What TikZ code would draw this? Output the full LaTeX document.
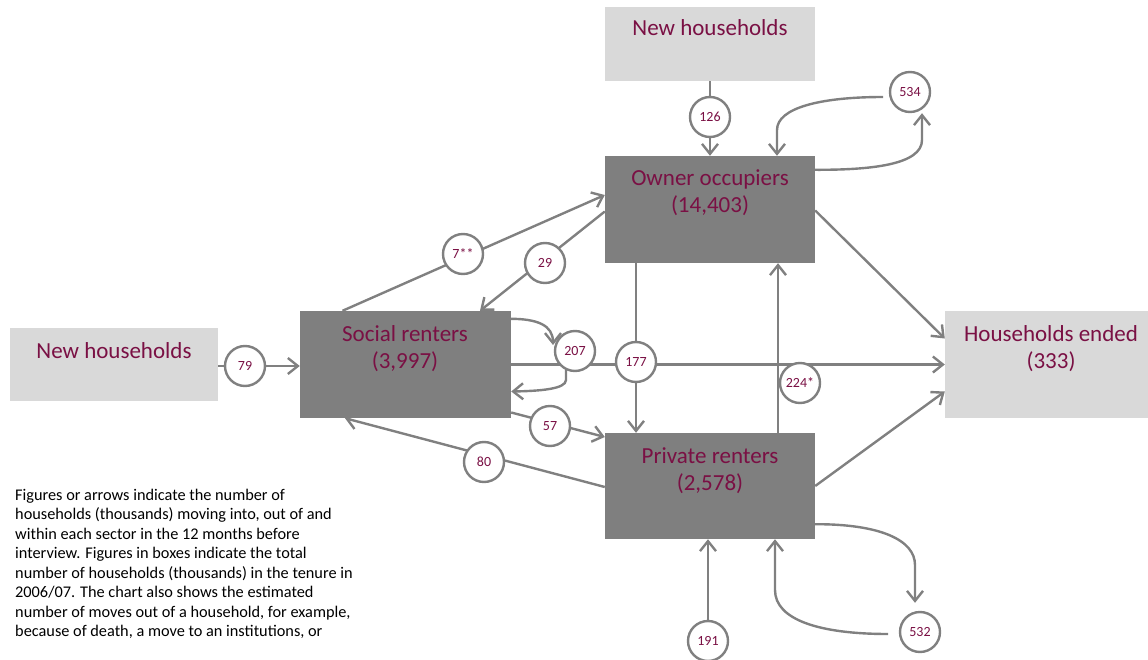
\documentclass[tikz,border=0pt]{standalone}
\usepackage{fontspec}
\setmainfont{Carlito}
\usetikzlibrary{arrows.meta,backgrounds}
\definecolor{boxdark}{RGB}{127,127,127}
\definecolor{boxlight}{RGB}{217,217,217}
\definecolor{wine}{RGB}{122,16,68}
\definecolor{linegray}{RGB}{128,128,128}
\begin{document}
\begin{tikzpicture}[x=1pt,y=-1pt,
  darkbox/.style={fill=boxdark, draw=none, minimum width=210pt, minimum height=107pt, inner sep=0pt},
  lightbox/.style={fill=boxlight, draw=none, inner sep=0pt},
  boxtext/.style={text=wine, font=\fontsize{23}{27}\selectfont, align=center, anchor=base, inner sep=0pt},
  notetext/.style={text=black, font=\fontsize{16.3}{19.5}\selectfont, align=left, anchor=base west, inner sep=0pt},
  num/.style={circle, draw=linegray, line width=2.4pt, fill=white, minimum size=40pt, inner sep=0pt, text=wine, font=\fontsize{14}{16}\selectfont},
  flow/.style={draw=linegray, line width=2.4pt, -{Straight Barb[length=10pt,width=16pt]}},
]
\useasboundingbox (0,0) rectangle (1148,660);
% boxes
\node[lightbox, minimum width=210pt, minimum height=74pt] (nhtop) at (710,44) {};
\node[darkbox] (oo) at (710,209.5) {};
\node[darkbox, minimum width=211pt] (sr) at (405.5,364.5) {};
\node[darkbox, minimum height=106pt] (pr) at (710,486) {};
\node[lightbox, minimum width=208pt, minimum height=73pt] (nhleft) at (114,364.5) {};
\node[lightbox, minimum width=203pt, minimum height=107pt] (he) at (1046.5,364.5) {};
% box texts (base = baseline of the last line)
\node[boxtext] (nhtopt) at (710,35.5) {New households};
\node[boxtext] (oot) at (710,213) {Owner occupiers\\(14,403)};
\node[boxtext] (srt) at (405,368) {Social renters\\(3,997)};
\node[boxtext] (prt) at (710,490) {Private renters\\(2,578)};
\node[boxtext] (het) at (1051,368) {Households ended\\(333)};
\node[boxtext] (nhleftt) at (114,358) {New households};
% circles
\node[num] (c126) at (710,117) {126};
\node[num] (c534) at (910,92) {534};
\node[num] (c7) at (463,254) {7**};
\node[num] (c29) at (545,263) {29};
\node[num] (c207) at (575,351) {207};
\node[num] (c177) at (636,362) {177};
\node[num] (c79) at (245,366) {79};
\node[num] (c57) at (550,426) {57};
\node[num] (c80) at (484,462) {80};
\node[num] (c224) at (800,383) {224*};
\node[num] (c191) at (708,641) {191};
\node[num] (c532) at (920,632) {532};
% note
\node[notetext] (note) at (15,636.5) {Figures or arrows indicate the number of\\
households (thousands) moving into, out of and\\
within each sector in the 12 months before\\
interview. Figures in boxes indicate the total\\
number of households (thousands) in the tenure in\\
2006/07. The chart also shows the estimated\\
number of moves out of a household, for example,\\
because of death, a move to an institutions, or};
% connectors
\begin{scope}[on background layer]
\draw[flow] (nhtop.south) -- (oo.north);
\draw[flow] ([yshift=-14pt]oo.north east) .. controls (870,170) and (922,165) .. (922,140) -- ([xshift=12pt]c534.south);
\draw[flow] ([xshift=-27pt,yshift=-5pt]c534.center) .. controls (820,97) and (777,108) .. (777,130) -- ([xshift=67pt]oo.north);
\draw[flow] ([xshift=-63pt]sr.north) -- ([yshift=14.5pt]oo.west);
\draw[flow] ([yshift=-2pt]oo.west) -- ([xshift=74.5pt]sr.north);
\draw[flow] ([yshift=-8pt]sr.north east) .. controls (537,319) and (553,325) .. ([xshift=-22pt,yshift=6pt]c207.center);
\draw[flow] ([xshift=-9pt]c207.center) -- (566,380) .. controls (566,389) and (540,391) .. ([yshift=-27pt]sr.east);
\draw[flow] (sr.east) -- (he.west);
\draw[flow] (oo.south -| c177) -- (pr.north -| c177);
\draw[flow] ([yshift=-48pt]sr.east) -- ([yshift=49pt]pr.west);
\draw[flow] ([yshift=-1pt]pr.west) -- ([xshift=-60.5pt]sr.south);
\draw[flow] ([xshift=68pt]pr.north) -- ([xshift=68pt]oo.south);
\draw[flow] ([yshift=-1pt]oo.east) -- ([yshift=26pt]he.west);
\draw[flow] (pr.east) -- ([yshift=-27pt]he.west);
\draw[flow] (nhleft.east |- c79) -- (sr.west |- c79);
\draw[flow] (c191) -- (pr.south -| c191);
\draw[flow] ([yshift=15pt]pr.south east) .. controls (880,524) and (915,540) .. (915,565) -- ([xshift=-5pt,yshift=8pt]c532.north);
\draw[flow] ([xshift=-32pt,yshift=-2pt]c532.center) .. controls (820,634) and (775,620) .. (775,590) -- ([xshift=65pt]pr.south);
\end{scope}
\end{tikzpicture}
\end{document}
